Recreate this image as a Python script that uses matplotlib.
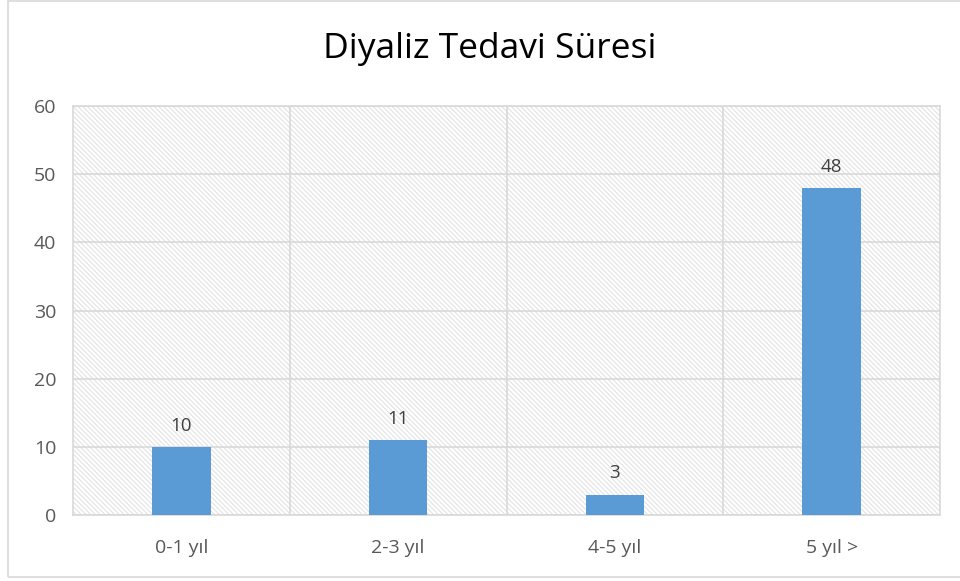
import matplotlib.pyplot as plt
from matplotlib.patches import Rectangle

categories = ["0-1 yıl", "2-3 yıl", "4-5 yıl", "5 yıl >"]
values = [10, 11, 3, 48]
title = "Diyaliz Tedavi Süresi"

plt.rcParams["font.family"] = ["Open Sans", "DejaVu Sans"]
plt.rcParams["hatch.linewidth"] = 0.8

fig = plt.figure(figsize=(9.6, 5.81), dpi=100)
ax = fig.add_axes([73 / 960, 66 / 581, 867 / 960, 409 / 581])

# light gray border around the chart
fig.patches.append(Rectangle((8 / 960, 4 / 581), 1.2, 576 / 581, transform=fig.transFigure,
                             fill=False, edgecolor="#d9d9d9", linewidth=1.2))

# hatched plot area
ax.set_facecolor("white")
ax.add_patch(Rectangle((0, 0), 1, 1, transform=ax.transAxes, facecolor="white",
                       edgecolor="#e3e3e3", hatch="\\" * 7, linewidth=0, zorder=0))

x = range(len(categories))
ax.bar(x, values, width=0.27, color="#5b9bd5", zorder=3)
for i, v in zip(x, values):
    ax.text(i, v + 1.8, str(v), ha="center", va="bottom", fontsize=13.5, color="#404040", zorder=4)

ax.set_xlim(-0.5, len(categories) - 0.5)
ax.set_ylim(0, 60)
ax.set_yticks(range(0, 61, 10))
ax.set_xticks(list(x))
ax.set_xticklabels(categories)
for b in [0.5, 1.5, 2.5]:
    ax.axvline(b, color="#d9d9d9", linewidth=1.2, zorder=1)
ax.grid(axis="y", color="#d9d9d9", linewidth=1.2, zorder=1)
ax.set_axisbelow(True)
ax.tick_params(length=0, labelsize=14, labelcolor="#595959")
ax.tick_params(axis="x", pad=17)
ax.tick_params(axis="y", pad=12)
for s in ax.spines.values():
    s.set_color("#d9d9d9")
    s.set_linewidth(1.2)

fig.text(490 / 960, 1 - 49 / 581, title, ha="center", va="center", fontsize=25.5, color="black")

fig.savefig("out.png", dpi=100)
